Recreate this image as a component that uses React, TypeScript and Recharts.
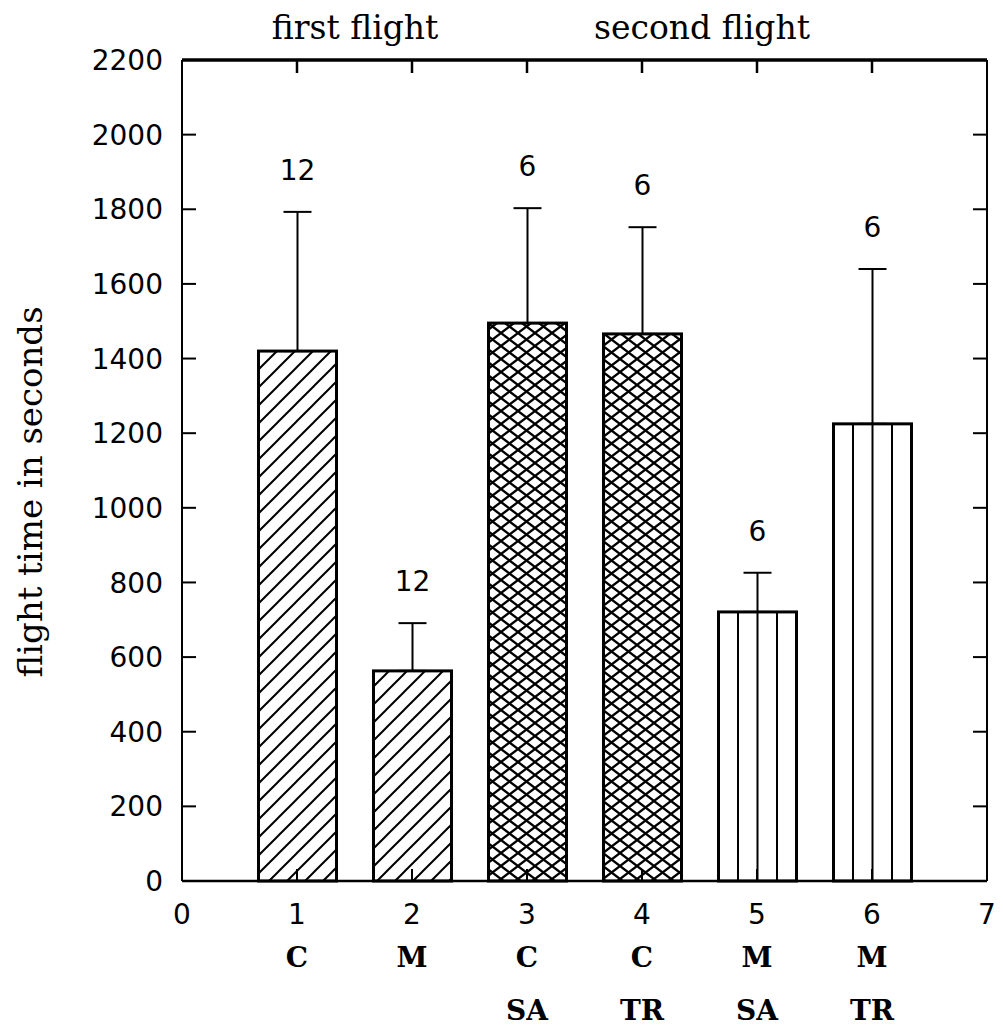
import React from 'react';
import { ComposedChart, Bar, Line, XAxis, YAxis, ErrorBar } from 'recharts';

// ---- data ----
const positions = [1, 2, 3, 4, 5, 6];
const means = [1420, 563, 1495, 1466, 721, 1225];
const sds = [373, 128, 308, 286, 105, 415];
const nLabels = ['12', '12', '6', '6', '6', '6'];
const xTicks = [0, 1, 2, 3, 4, 5, 6, 7];
const xTickLabels = ['0', '1', '2', '3', '4', '5', '6', '7'];
const groupLabels = ['', 'C', 'M', 'C', 'C', 'M', 'M', ''];
const subLabels = ['', '', '', 'SA', 'TR', 'SA', 'TR', ''];
const topTicks = [1, 2, 3, 4, 5, 6];
const yTicks = [0, 200, 400, 600, 800, 1000, 1200, 1400, 1600, 1800, 2000, 2200];
const yTickLabels = ['0', '200', '400', '600', '800', '1000', '1200', '1400', '1600', '1800', '2000', '2200'];
const topTitles = ['first flight', 'second flight'];
const yAxisTitle = 'flight time in seconds';

const data = positions.map((x, i) => ({ x, mean: means[i], err: [0, sds[i]], n: nLabels[i] }));

// ---- styling ----
const fillKinds = ['hatch', 'hatch', 'cross', 'cross', 'vlines', 'vlines'];
const SANS = '"DejaVu Sans", sans-serif';
const SERIF = '"DejaVu Serif", serif';

const BarShape = (props: any) => {
  const { x, y, width, height, index } = props;
  const kind = fillKinds[index] || 'hatch';
  const lines: React.ReactNode[] = [];
  if (kind === 'vlines') {
    for (let k = 1; k < 4; k++) {
      const lx = x + (width * k) / 4;
      lines.push(<line key={k} x1={lx} x2={lx} y1={y} y2={y + height} stroke="#000" strokeWidth={2} />);
    }
  }
  return (
    <g>
      <rect
        x={x}
        y={y}
        width={width}
        height={height}
        fill={kind === 'vlines' ? 'none' : `url(#${kind})`}
        stroke="none"
      />
      {lines}
      <rect x={x} y={y} width={width} height={height} fill="none" stroke="#000" strokeWidth={3} />
    </g>
  );
};

const BottomTick = (props: any) => {
  const { x, y, payload } = props;
  const i = xTicks.indexOf(payload.value);
  return (
    <g>
      <text x={x} y={y + 43} textAnchor="middle" fontFamily={SANS} fontSize={28} fill="#000">
        {xTickLabels[i]}
      </text>
      <text x={x} y={y + 86} textAnchor="middle" fontFamily={SERIF} fontWeight="bold" fontSize={28} fill="#000">
        {groupLabels[i]}
      </text>
      <text x={x} y={y + 139} textAnchor="middle" fontFamily={SERIF} fontWeight="bold" fontSize={28} fill="#000">
        {subLabels[i]}
      </text>
    </g>
  );
};

const LeftTick = (props: any) => {
  const { x, y, payload } = props;
  const i = yTicks.indexOf(payload.value);
  return (
    <text x={x} y={y} dy="0.36em" textAnchor="end" fontFamily={SANS} fontSize={28} fill="#000">
      {yTickLabels[i]}
    </text>
  );
};

// inward tick marks drawn from the axis position the library hands over
const TopTickMark = (props: any) => {
  const { x, y } = props;
  return <line x1={x} x2={x} y1={y} y2={y + 13} stroke="#000" strokeWidth={2.5} />;
};
const RightTickMark = (props: any) => {
  const { x, y } = props;
  return <line x1={x} x2={x - 14} y1={y} y2={y} stroke="#000" strokeWidth={2} />;
};

const NLabel = (props: any) => {
  const { x, y, width, height, value, index } = props;
  if (value == null || !height) return null;
  const capY = y - (sds[index] * height) / value;
  return (
    <text x={x + width / 2} y={capY - 32} textAnchor="middle" fontFamily={SANS} fontSize={28} fill="#000">
      {nLabels[index]}
    </text>
  );
};

const titleStyle: React.CSSProperties = {
  position: 'absolute',
  fontFamily: SERIF,
  fontSize: 33,
  whiteSpace: 'nowrap',
  color: '#000',
  lineHeight: 1,
};

export default function App() {
  return (
    <div style={{ position: 'relative', width: 995, height: 1023 }}>
      <style>{'html,body{margin:0;padding:0;overflow:hidden;} body{padding:8px 0 0 8px;}'}</style>
      <ComposedChart
        width={995}
        height={1023}
        data={data}
        margin={{ top: 40, right: 0, bottom: 0, left: 0 }}
      >
        <defs>
          <pattern id="hatch" patternUnits="userSpaceOnUse" width="18" height="18">
            <path d="M-2,2 L2,-2 M0,18 L18,0 M16,20 L20,16" stroke="#000" strokeWidth="2" />
          </pattern>
          <pattern id="cross" patternUnits="userSpaceOnUse" width="17" height="13">
            <rect width="17" height="13" fill="#fff" />
            <path d="M0,0 L17,13 M0,13 L17,0" stroke="#000" strokeWidth="2.3" />
          </pattern>
        </defs>
        <XAxis
          xAxisId="bottom"
          dataKey="x"
          type="number"
          domain={[0, 7]}
          ticks={xTicks}
          interval={0}
          height={150}
          tickSize={-12}
          tickMargin={12}
          axisLine={{ stroke: '#000', strokeWidth: 2.5 }}
          tickLine={{ stroke: '#000', strokeWidth: 2 }}
          tick={<BottomTick />}
        />
        <XAxis
          xAxisId="top"
          orientation="top"
          dataKey="x"
          type="number"
          domain={[0, 7]}
          ticks={topTicks}
          interval={0}
          height={12}
          tickSize={0}
          tickMargin={0}
          axisLine={{ stroke: '#000', strokeWidth: 3.5 }}
          tickLine={false}
          tick={<TopTickMark />}
        />
        <YAxis
          yAxisId="left"
          type="number"
          domain={[0, 2200]}
          ticks={yTicks}
          interval={0}
          width={174}
          tickSize={-14}
          tickMargin={33}
          axisLine={{ stroke: '#000', strokeWidth: 2 }}
          tickLine={{ stroke: '#000', strokeWidth: 2 }}
          tick={<LeftTick />}
        />
        <YAxis
          yAxisId="right"
          orientation="right"
          type="number"
          domain={[0, 2200]}
          ticks={yTicks}
          interval={0}
          width={16}
          tickSize={0}
          tickMargin={0}
          axisLine={{ stroke: '#000', strokeWidth: 2 }}
          tickLine={false}
          tick={<RightTickMark />}
        />
        <Bar
          xAxisId="bottom"
          yAxisId="left"
          dataKey="mean"
          barSize={78}
          isAnimationActive={false}
          shape={<BarShape />}
          label={<NLabel />}
        >
          <ErrorBar dataKey="err" width={14} stroke="#000" strokeWidth={2} direction="y" />
        </Bar>
        {/* invisible series that ties the frame axes (top / right) to the data */}
        <Line
          xAxisId="top"
          yAxisId="right"
          dataKey="mean"
          stroke="none"
          dot={false}
          activeDot={false}
          legendType="none"
          isAnimationActive={false}
        />
      </ComposedChart>
      <div style={{ ...titleStyle, left: 347, top: 19, transform: 'translate(-50%, -50%)' }}>
        {topTitles[0]}
      </div>
      <div style={{ ...titleStyle, left: 694, top: 19, transform: 'translate(-50%, -50%)' }}>
        {topTitles[1]}
      </div>
      <div
        style={{
          ...titleStyle,
          fontSize: 34,
          left: 22,
          top: 484,
          transform: 'translate(-50%, -50%) rotate(-90deg)',
        }}
      >
        {yAxisTitle}
      </div>
    </div>
  );
}
